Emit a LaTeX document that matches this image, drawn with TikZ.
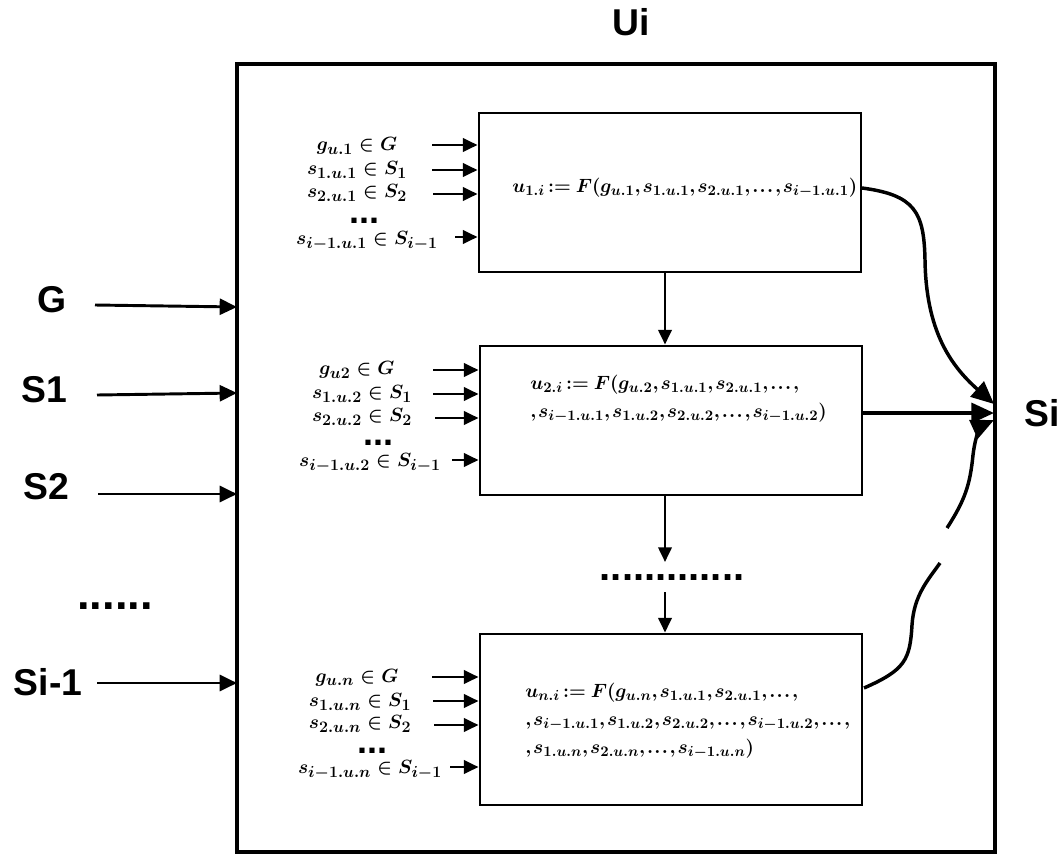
\documentclass[tikz,border=0pt]{standalone}
\usepackage{amsmath}
\usepackage{fontspec}
\setsansfont{Liberation Sans}
\usetikzlibrary{arrows.meta,calc}
\DeclareMathSizes{14}{14}{10.5}{8}
\DeclareMathSizes{15}{15}{12}{9}
\newcommand\tdots{\mathinner{.\mkern1mu.\mkern1mu.}}
\newcommand\tightmath{\thinmuskip=1.5mu\medmuskip=3mu\thickmuskip=4mu}
\tikzset{
  outerbox/.style={draw, line width=3pt, inner sep=0pt},
  blockbox/.style={draw, line width=2.2pt, inner sep=0pt, minimum width=286.5pt},
  lbl/.style={font=\sffamily\bfseries\fontsize{28}{32}\selectfont, inner sep=0pt},
  mth/.style={font=\boldmath\fontsize{14}{21}\selectfont\tightmath, inner sep=0pt},
  inp/.style={font=\boldmath\fontsize{15}{16}\selectfont, inner sep=0pt},
  bigdots/.style={font=\sffamily\bfseries\fontsize{34}{34}\selectfont, inner sep=0pt},
  middots/.style={font=\sffamily\bfseries\fontsize{30}{30}\selectfont, inner sep=0pt},
  smdots/.style={font=\sffamily\bfseries\fontsize{27}{27}\selectfont, inner sep=0pt},
  inarr/.style={line width=2.2pt, -{Triangle[length=11pt,width=10pt]}},
  leftarr/.style={line width=2.2pt, -{Triangle[length=13pt,width=12pt]}},
  downarr/.style={line width=2pt, -{Triangle[length=11pt,width=10pt]}},
  sarr/.style={line width=2.6pt, -{Triangle[length=17pt,width=15pt]}},
  curve/.style={line width=2.6pt}
}
\begin{document}
\begin{tikzpicture}[x=0.75pt,y=-0.75pt]
\useasboundingbox (0,0) rectangle (1063,856);
% outer box and titles
\node[outerbox, minimum width=568.5pt, minimum height=591pt] (outer) at (616,458) {};
\node[lbl] (ui) at (631,22) {Ui};
\node[lbl] (si) at (1042,413) {Si};
% left inputs
\node[lbl] (lg) at (52,300) {G};
\node[lbl] (ls1) at (44,390) {S1};
\node[lbl] (ls2) at (46,487) {S2};
\node[bigdots] (ldots) at (115,606) {......};
\node[lbl] (lsi) at (48,682) {Si-1};
\coordinate (og) at (237,307);
\coordinate (os1) at (237,393);
\coordinate (os2) at (237,494);
\coordinate (osi) at (237,683);
\coordinate (sg) at (95,305);
\coordinate (ss1) at (97,395);
\coordinate (ss2) at (98,494);
\coordinate (ssi) at (97,683);
% blocks
\node[blockbox, minimum height=119.25pt] (b1) at (670,192.5) {};
\node[blockbox, minimum height=111.75pt] (b2) at (671,420.5) {};
\node[blockbox, minimum height=128.25pt] (b3) at (671,719.5) {};
% formulas
\node[mth, anchor=west] (f1) at (512,188) {$u_{1.i}\!:= F(g_{u.1}, s_{1.u.1}, s_{2.u.1},\tdots, s_{i-1.u.1})$};
\node[mth, anchor=west, align=left] (f2) at (530,399) {$u_{2.i}\!:= F(g_{u.2}, s_{1.u.1}, s_{2.u.1},\tdots,$\\$,s_{i-1.u.1}, s_{1.u.2}, s_{2.u.2},\tdots, s_{i-1.u.2})$};
\node[mth, anchor=west, align=left] (f3) at (525,721) {$u_{n.i}\!:= F(g_{u.n}, s_{1.u.1}, s_{2.u.1},\tdots,$\\$,s_{i-1.u.1}, s_{1.u.2}, s_{2.u.2},\tdots, s_{i-1.u.2},\tdots,$\\$,s_{1.u.n}, s_{2.u.n},\tdots, s_{i-1.u.n})$};
% block 1 inputs
\node[inp] (p11) at (357,146) {$g_{u.1}\in G$};
\node[inp] (p12) at (357,170) {$s_{1.u.1}\in S_1$};
\node[inp] (p13) at (357,193) {$s_{2.u.1}\in S_2$};
\node[smdots] (p14) at (364,221) {...};
\node[inp] (p15) at (367,241) {$s_{i-1.u.1}\in S_{i-1}$};
\coordinate (q11) at (432,145);
\coordinate (q12) at (432,170);
\coordinate (q13) at (433,194);
\coordinate (q15) at (455,237);
% block 2 inputs
\node[inp] (p21) at (357,370) {$g_{u2}\in G$};
\node[inp] (p22) at (362,394) {$s_{1.u.2}\in S_1$};
\node[inp] (p23) at (362,417) {$s_{2.u.2}\in S_2$};
\node[smdots] (p24) at (378,443) {...};
\node[inp] (p25) at (370,463) {$s_{i-1.u.2}\in S_{i-1}$};
\coordinate (q21) at (433,370);
\coordinate (q22) at (433,394);
\coordinate (q23) at (435,418);
\coordinate (q25) at (452,460);
% block 3 inputs
\node[inp] (p31) at (357,678) {$g_{u.n}\in G$};
\node[inp] (p32) at (360,702) {$s_{1.u.n}\in S_1$};
\node[inp] (p33) at (360,724) {$s_{2.u.n}\in S_2$};
\node[smdots] (p34) at (372,751) {...};
\node[inp] (p35) at (370,770) {$s_{i-1.u.n}\in S_{i-1}$};
\coordinate (q31) at (432,677);
\coordinate (q32) at (433,701);
\coordinate (q33) at (434,725);
\coordinate (q35) at (450,767);
\foreach \q/\b in {q11/b1,q12/b1,q13/b1,q15/b1,q21/b2,q22/b2,q23/b2,q25/b2,q31/b3,q32/b3,q33/b3,q35/b3}
  \draw[inarr] (\q) -- (\q -| \b.west);
% middle dots and vertical arrows
\coordinate (mx) at (665,0);
\node[middots] (mdots) at (672,578) {.............};
\coordinate (d2end) at (665,562);
\coordinate (d3start) at (665,592);
\draw[downarr] (b1.south -| mx) -- (b2.north -| mx);
\draw[downarr] (b2.south -| mx) -- (d2end);
\draw[downarr] (d3start) -- (b3.north -| mx);
% right side outputs
\coordinate (t1) at (994,404);
\coordinate (t2) at (994,413);
\coordinate (t3) at (994,420);
\coordinate (c1s) at (862,188);
\coordinate (c3s) at (864,688);
\coordinate (c3a) at (940,563);
\coordinate (c3b) at (947,528);
\draw[sarr] (b2.east |- t2) -- (t2);
\draw[curve, -{Triangle[length=17pt,width=15pt]}] (c1s) .. controls (915,195) and (924,212) .. (925,260)
  .. controls (926,330) and (950,365) .. (t1);
\draw[curve] (c3s) .. controls (905,670) and (910,660) .. (912,625) .. controls (914,595) and (928,580) .. (c3a);
\draw[curve, -{Triangle[length=17pt,width=15pt]}] (c3b) .. controls (965,500) and (970,485) .. (973,455) .. controls (976,430) and (983,425) .. (t3);
% left arrows
\draw[leftarr] (sg) -- (og);
\draw[leftarr] (ss1) -- (os1);
\draw[leftarr] (ss2) -- (os2);
\draw[leftarr] (ssi) -- (osi);
\end{tikzpicture}
\end{document}
